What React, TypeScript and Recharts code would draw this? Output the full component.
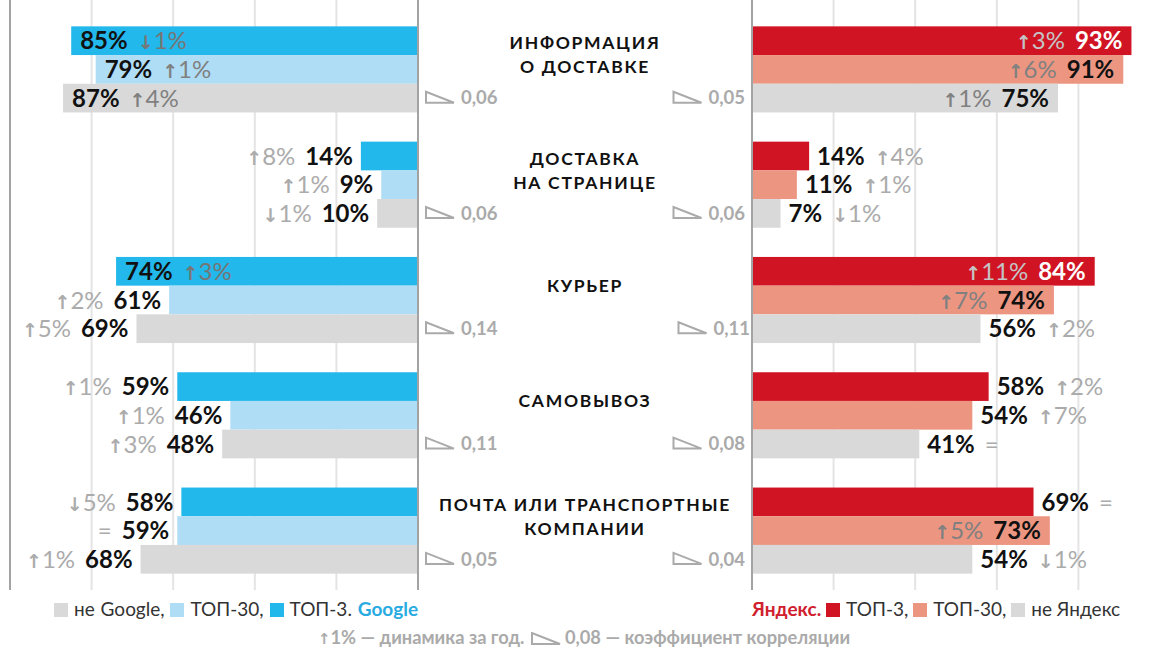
import { BarChart, Bar, XAxis, YAxis, CartesianGrid, ReferenceLine } from 'recharts';

// categories (middle column), two-line names split by \n
const categories = [
  'ИНФОРМАЦИЯ\nО ДОСТАВКЕ',
  'ДОСТАВКА\nНА СТРАНИЦЕ',
  'КУРЬЕР',
  'САМОВЫВОЗ',
  'ПОЧТА ИЛИ ТРАНСПОРТНЫЕ\nКОМПАНИИ',
];

// Google, %
const googleTop3 = [85, 14, 74, 59, 58];
const googleTop30 = [79, 9, 61, 46, 59];
const googleOther = [87, 10, 69, 48, 68];
const googleTop3Change = ['↓1%', '↑8%', '↑3%', '↑1%', '↓5%'];
const googleTop30Change = ['↑1%', '↑1%', '↑2%', '↑1%', '='];
const googleOtherChange = ['↑4%', '↓1%', '↑5%', '↑3%', '↑1%'];
const googleCorr = ['0,06', '0,06', '0,14', '0,11', '0,05'];

// Yandex, %
const yandexTop3 = [93, 14, 84, 58, 69];
const yandexTop30 = [91, 11, 74, 54, 73];
const yandexOther = [75, 7, 56, 41, 54];
const yandexTop3Change = ['↑3%', '↑4%', '↑11%', '↑2%', '='];
const yandexTop30Change = ['↑6%', '↑1%', '↑7%', '↑7%', '↑5%'];
const yandexOtherChange = ['↑1%', '↓1%', '↑2%', '=', '↓1%'];
const yandexCorr = ['0,05', '0,06', '0,11', '0,08', '0,04'];

const axisTicks = [0, 20, 40, 60, 80, 100];

const rows = categories.map((name, i) => ({
  name,
  gTop3: googleTop3[i],
  gTop30: googleTop30[i],
  gOther: googleOther[i],
  yTop3: yandexTop3[i],
  yTop30: yandexTop30[i],
  yOther: yandexOther[i],
}));

const FONT = 'Lato, "Noto Sans", sans-serif';
const CHART_H = 590;
const BAND_PAD = { top: 11.35, bottom: 2.15 };
const BAR_SIZE = 28.7;
const GRID = '#e4e4e4';
const AXIS = '#a3a3a3';
const OUT_CHANGE = '#ababab';
const CORR = '#aaaaaa';

const BLUE = '#23b8eb';
const LIGHT_BLUE = '#b0ddf6';
const GRAY = '#d9d9d9';
const RED = '#d11424';
const SALMON = '#ec9682';

function changeParts(change: string, color: string, dx?: number) {
  const arrow = change[0] === '↑' || change[0] === '↓' ? change[0] : '';
  const rest = arrow ? change.slice(1) : change;
  return [
    arrow ? (
      <tspan key="a" dx={dx} fill={color} fontWeight={700} fontSize={19} fontFamily='"DejaVu Sans", sans-serif'>
        {arrow}
      </tspan>
    ) : null,
    <tspan key="r" dx={arrow ? 0 : dx} fill={color} fontWeight={400}>
      {rest}
    </tspan>,
  ];
}

function makeBarShape(
  side: 'left' | 'right',
  fill: string,
  key: string,
  changes: string[],
  innerValue: string,
  innerChange: string
) {
  return (props: any) => {
    const { x, y, width, height, payload } = props;
    const left = Math.min(x, x + width);
    const right = Math.max(x, x + width);
    const i = categories.indexOf(payload.name);
    const value = payload[key];
    const change = changes[i];
    const inside = value >= 70;
    const cy = y + height / 2;
    const common = { y: cy, dy: '0.36em', fontFamily: FONT, fontSize: 24 };
    const val = (color: string, dx?: number) => (
      <tspan key="v" dx={dx} fill={color} fontWeight={700}>
        {value}%
      </tspan>
    );
    let label;
    if (side === 'left') {
      label = inside ? (
        <text {...common} x={left + 9} textAnchor="start">
          {val(innerValue)}
          {changeParts(change, innerChange, 10)}
        </text>
      ) : (
        <text {...common} x={left - 8} textAnchor="end">
          {changeParts(change, OUT_CHANGE)}
          {val('#111', 10)}
        </text>
      );
    } else {
      label = inside ? (
        <text {...common} x={right - 9} textAnchor="end">
          {changeParts(change, innerChange)}
          {val(innerValue, 10)}
        </text>
      ) : (
        <text {...common} x={right + 8} textAnchor="start">
          {val('#111')}
          {changeParts(change, OUT_CHANGE, 10)}
        </text>
      );
    }
    return (
      <g>
        <rect x={left} y={y} width={right - left} height={height} fill={fill} />
        {label}
      </g>
    );
  };
}

function corrWidth(s: string) {
  let w = 0;
  for (const ch of s) w += ch === ',' ? 5 : ch === '1' ? 8 : 10.5;
  return w;
}

function CorrMark({ x, y, text }: { x: number; y: number; text: string }) {
  return (
    <g>
      <path d={`M${x},${y - 6} L${x},${y + 5} L${x + 28},${y + 5} Z`} fill="none" stroke={CORR} strokeWidth={2} />
      <text x={x + 35} y={y} dy="0.36em" fill={CORR} fontFamily={FONT} fontSize={18.5} fontWeight={700}>
        {text}
      </text>
    </g>
  );
}

function CenterTick(props: any) {
  const { y, payload } = props;
  const i = categories.indexOf(payload.value);
  const lines = String(payload.value).split('\n');
  const nameY = y - 14 - (lines.length - 1) * 12;
  const corrY = y + BAR_SIZE;
  const yText = yandexCorr[i];
  return (
    <g>
      <text fill="#111" fontFamily={FONT} fontSize={17.5} fontWeight={700} letterSpacing={1.7} textAnchor="middle">
        {lines.map((l, k) => (
          <tspan key={k} x={585} y={nameY + k * 24} dy="0.36em">
            {l}
          </tspan>
        ))}
      </text>
      <CorrMark x={426} y={corrY} text={googleCorr[i]} />
      <CorrMark x={745 - corrWidth(yText) - 35} y={corrY} text={yText} />
    </g>
  );
}

function Swatch({ color }: { color: string }) {
  return (
    <span
      style={{ display: 'inline-block', width: 14, height: 14, background: color, marginRight: 6, verticalAlign: -1 }}
    />
  );
}

export default function App() {
  return (
    <div
      style={{
        position: 'fixed',
        left: 0,
        top: 0,
        width: 1150,
        height: 647,
        overflow: 'hidden',
        background: '#fff',
        fontFamily: FONT,
      }}
    >
      <div style={{ position: 'absolute', left: 0, top: 0 }}>
        <BarChart
          width={752}
          height={CHART_H}
          data={rows}
          layout="vertical"
          margin={{ top: 0, right: 0, left: 10, bottom: 0 }}
          barGap={0}
          barSize={BAR_SIZE}
        >
          <CartesianGrid horizontal={false} stroke={GRID} strokeWidth={2} />
          <XAxis type="number" domain={[0, 100]} ticks={axisTicks} reversed hide />
          <YAxis
            type="category"
            dataKey="name"
            orientation="right"
            width={334}
            axisLine={false}
            tickLine={false}
            interval={0}
            padding={BAND_PAD}
            tick={<CenterTick />}
          />
          <Bar dataKey="gTop3" isAnimationActive={false} shape={makeBarShape('left', BLUE, 'gTop3', googleTop3Change, '#111', '#767676')} />
          <Bar dataKey="gTop30" isAnimationActive={false} shape={makeBarShape('left', LIGHT_BLUE, 'gTop30', googleTop30Change, '#111', '#808080')} />
          <Bar dataKey="gOther" isAnimationActive={false} shape={makeBarShape('left', GRAY, 'gOther', googleOtherChange, '#111', '#808080')} />
          <ReferenceLine x={100} stroke={AXIS} strokeWidth={2} />
          <ReferenceLine x={0} stroke={AXIS} strokeWidth={2} />
        </BarChart>
      </div>
      <div style={{ position: 'absolute', left: 750, top: 0 }}>
        <BarChart
          width={410}
          height={CHART_H}
          data={rows}
          layout="vertical"
          margin={{ top: 0, right: 0, left: 2, bottom: 0 }}
          barGap={0}
          barSize={BAR_SIZE}
        >
          <CartesianGrid horizontal={false} stroke={GRID} strokeWidth={2} />
          <XAxis type="number" domain={[0, 100]} ticks={axisTicks} hide />
          <YAxis type="category" dataKey="name" hide padding={BAND_PAD} />
          <Bar dataKey="yTop3" isAnimationActive={false} shape={makeBarShape('right', RED, 'yTop3', yandexTop3Change, '#fff', '#c4c4c4')} />
          <Bar dataKey="yTop30" isAnimationActive={false} shape={makeBarShape('right', SALMON, 'yTop30', yandexTop30Change, '#111', '#808080')} />
          <Bar dataKey="yOther" isAnimationActive={false} shape={makeBarShape('right', GRAY, 'yOther', yandexOtherChange, '#111', '#808080')} />
          <ReferenceLine x={0} stroke={AXIS} strokeWidth={2} />
        </BarChart>
      </div>

      {/* legends */}
      <div style={{ position: 'absolute', left: 54, top: 597, fontSize: 19, color: '#333', whiteSpace: 'nowrap', wordSpacing: 1 }}>
        <Swatch color={GRAY} />
        не Google, <Swatch color={LIGHT_BLUE} />
        ТОП-30, <Swatch color={BLUE} />
        ТОП-3. <b style={{ color: '#29abe2' }}>Google</b>
      </div>
      <div style={{ position: 'absolute', left: 752, top: 597, fontSize: 19, color: '#333', whiteSpace: 'nowrap' }}>
        <b style={{ color: '#d0202e' }}>Яндекс.</b> <Swatch color={RED} />
        ТОП-3, <Swatch color={SALMON} />
        ТОП-30, <Swatch color={GRAY} />
        не Яндекс
      </div>
      <div
        style={{
          position: 'absolute',
          left: 0,
          width: 1168,
          top: 626,
          textAlign: 'center',
          fontSize: 18.3,
          fontWeight: 700,
          color: '#aaa',
          whiteSpace: 'nowrap',
        }}
      >
        <span style={{ fontFamily: '"DejaVu Sans", sans-serif', fontSize: 15 }}>↑</span>1% — динамика за год.{' '}
        <svg width={30} height={13} style={{ verticalAlign: -1, marginLeft: 2, marginRight: 4 }}>
          <path d="M1,1 L1,12 L29,12 Z" fill="none" stroke="#aaa" strokeWidth={2} />
        </svg>
        0,08 — коэффициент корреляции
      </div>
    </div>
  );
}
